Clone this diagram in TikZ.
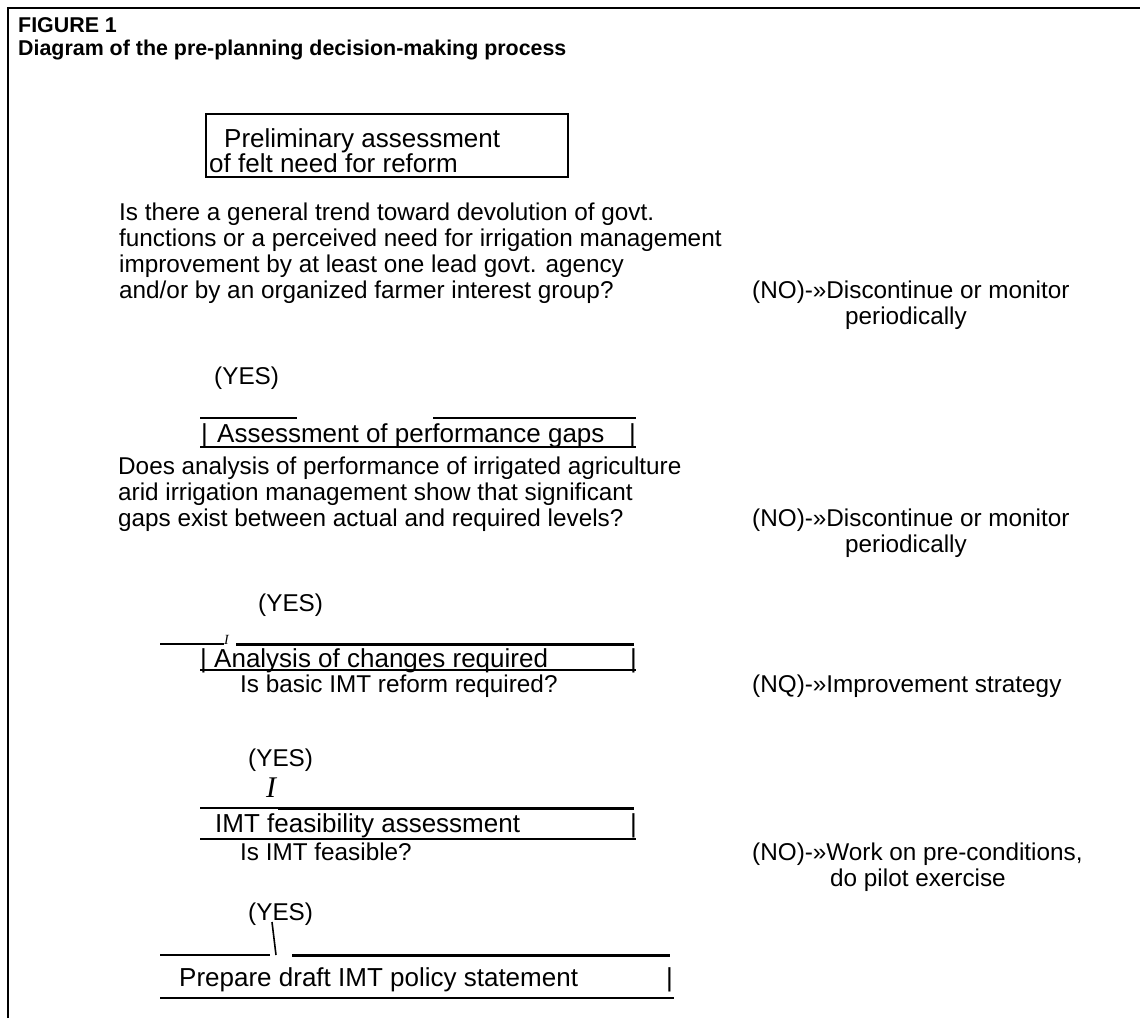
\documentclass[tikz,border=0pt]{standalone}
\usepackage{fontspec}
\setmainfont{Liberation Sans}
\newfontfamily\serifit{Liberation Serif}
\begin{document}
\begin{tikzpicture}[x=1pt,y=-1pt,
  body/.style={anchor=base west,inner sep=0pt,font=\fontsize{24.3}{26}\selectfont,align=left},
  boxtxt/.style={anchor=base west,inner sep=0pt,font=\fontsize{26}{27}\selectfont,align=left},
  ttl/.style={anchor=base west,inner sep=0pt,font=\fontsize{21.4}{24}\selectfont\bfseries},
  rule/.style={line width=2.3pt},
  boldrule/.style={line width=3pt},
  thinrule/.style={line width=1.2pt},
  frame/.style={line width=2.8pt}]
\useasboundingbox (0,0) rectangle (1140,1018);
% frame
\coordinate (fa) at (8,1018);
\coordinate (fb) at (8,8);
\coordinate (fc) at (1140,8);
\draw[frame] (fa) -- (fb) -- (fc);
% title
\node[ttl] (fig) at (18,32) {FIGURE 1};
\node[ttl] (cap) at (18,55) {Diagram of the pre-planning decision-making process};
% box 1
\node[draw,line width=2.8pt,minimum width=362pt,minimum height=63pt,inner sep=0pt] (b1) at (387,145.5) {};
\node[boxtxt] (b1a) at (224,147) {Preliminary assessment};
\node[boxtxt] (b1b) at (209,172) {of felt need for reform};
% question 1
\node[body] (q1) at (119,298) {Is there a general trend toward devolution of govt.\\functions or a perceived need for irrigation management\\improvement by at least one lead govt. agency\\and/or by an organized farmer interest group?};
\node[body] (n1) at (752,298) {(NO)-»Discontinue or monitor};
\node[body] (n1b) at (845,324) {periodically};
\node[body] (y1) at (214,384) {(YES)};
% box 2
\coordinate (b2a) at (200,418); \coordinate (b2b) at (297,418);
\coordinate (b2c) at (433,418); \coordinate (b2d) at (636,418);
\coordinate (b2e) at (200,447); \coordinate (b2f) at (636,447);
\draw[rule] (b2a) -- (b2b); \draw[rule] (b2c) -- (b2d); \draw[rule] (b2e) -- (b2f);
\node[boxtxt] (b2l) at (201,442) {|};
\node[boxtxt] (b2t) at (217,442) {Assessment of performance gaps};
\node[boxtxt] (b2r) at (629,442) {|};
% question 2
\node[body] (q2) at (118,526) {Does analysis of performance of irrigated agriculture\\arid irrigation management show that significant\\gaps exist between actual and required levels?};
\node[body] (n2) at (752,526) {(NO)-»Discontinue or monitor};
\node[body] (n2b) at (845,552) {periodically};
\node[body] (y2) at (258,611) {(YES)};
% box 3
\coordinate (b3a) at (160,644); \coordinate (b3b) at (224,644);
\coordinate (b3c) at (236,644); \coordinate (b3d) at (634,644);
\coordinate (b3e) at (200,670); \coordinate (b3f) at (636,670);
\draw[thinrule] (b3a) -- (b3b);
\node[anchor=base west,inner sep=0pt,font=\serifit\itshape\fontsize{14}{14}\selectfont] (b3i) at (224,644) {I};
\draw[boldrule] (b3c) -- (b3d); \draw[rule] (b3e) -- (b3f);
\node[boxtxt] (b3l) at (200,667) {|};
\node[boxtxt] (b3t) at (214,667) {Analysis of changes required};
\node[boxtxt] (b3r) at (630,667) {|};
\node[body] (q3) at (240,692) {Is basic IMT reform required?};
\node[body] (n3) at (752,692) {(NQ)-»Improvement strategy};
\node[body] (y3) at (248,766) {(YES)};
\node[anchor=base west,inner sep=0pt,font=\serifit\itshape\fontsize{30}{30}\selectfont] (y3i) at (266,797) {I};
% box 4
\coordinate (b4a) at (200,808); \coordinate (b4b) at (278,808);
\coordinate (b4c) at (634,808);
\coordinate (b4d) at (200,839); \coordinate (b4e) at (636,839);
\draw[rule] (b4a) -- (b4b); \draw[boldrule] (b4b) -- (b4c); \draw[rule] (b4d) -- (b4e);
\node[boxtxt] (b4t) at (215,832) {IMT feasibility assessment};
\node[boxtxt] (b4r) at (630,832) {|};
\node[body] (q4) at (240,860) {Is IMT feasible?};
\node[body] (n4) at (752,860) {(NO)-»Work on pre-conditions,};
\node[body] (n4b) at (830,886) {do pilot exercise};
\node[body] (y4) at (248,920) {(YES)};
% box 5
\coordinate (s1) at (272,922); \coordinate (s2) at (276,955);
\draw[line width=1.6pt] (s1) -- (s2);
\coordinate (b5a) at (160,955); \coordinate (b5b) at (270,955);
\coordinate (b5c) at (292,955); \coordinate (b5d) at (670,955);
\coordinate (b5e) at (160,998); \coordinate (b5f) at (674,998);
\draw[rule] (b5a) -- (b5b); \draw[boldrule] (b5c) -- (b5d); \draw[rule] (b5e) -- (b5f);
\node[boxtxt] (b5t) at (179,986) {Prepare draft IMT policy statement};
\node[boxtxt] (b5r) at (666,986) {|};
\end{tikzpicture}
\end{document}
